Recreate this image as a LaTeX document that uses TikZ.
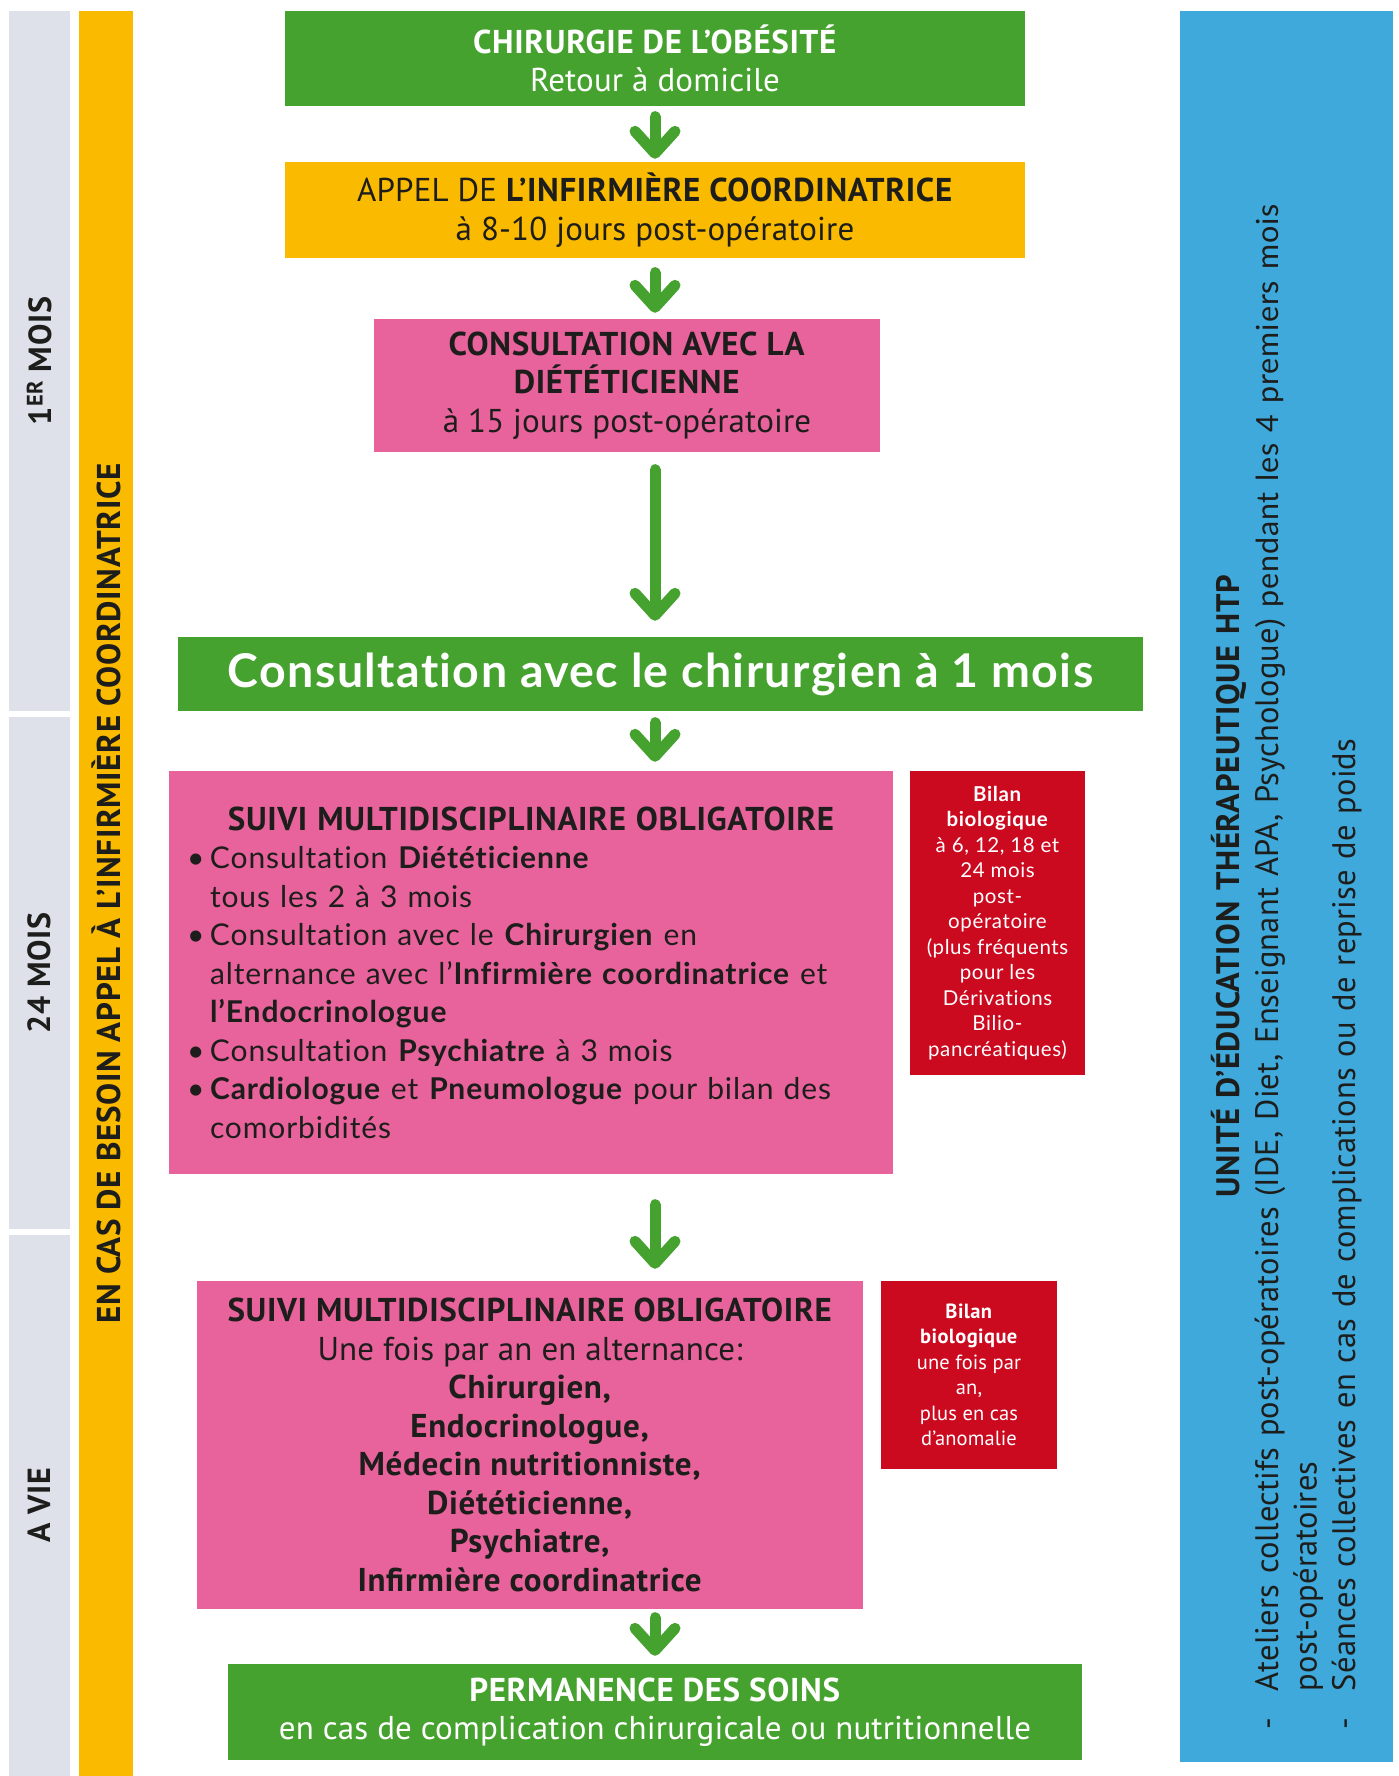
\documentclass[tikz,border=0pt]{standalone}
\usepackage{fontspec}
\setmainfont{PT Sans}[UprightFeatures={LetterSpace=0.5}, BoldFeatures={LetterSpace=2}]
\newfontfamily\amplefont{Lato}[LetterSpace=3, Ligatures=NoCommon]
\usetikzlibrary{arrows.meta}

\newcommand\taille[2]{\fontsize{#1}{#2}\selectfont}
\newcommand\puce{\par\noindent\hangindent=23pt\hangafter=1\makebox[23pt][l]{•}}
\newcommand\tiret{\par\noindent\hangindent=38pt\hangafter=1\makebox[38pt][l]{-}}

\begin{document}
\begin{tikzpicture}[
  x=1pt, y=1pt,
  boite/.style={inner sep=0pt, align=center, text=encre, font=\taille{33}{38.5}},
  periode/.style={rotate=90, fill=gris, inner sep=0pt, minimum height=61pt,
                  text=encre, font=\taille{32}{36}\bfseries},
  fleche/.style={draw=vert, line width=11pt, line cap=round,
                 -{Straight Barb[round, length=22pt, width=40pt]}},
]

%% ── Colours ──────────────────────────────────────────────────────────────────
\definecolor{vert}{HTML}{46A22E}
\definecolor{jaune}{HTML}{F9BA00}
\definecolor{rose}{HTML}{E8639B}
\definecolor{rouge}{HTML}{CB0A20}
\definecolor{bleu}{HTML}{3FA9DB}
\definecolor{gris}{HTML}{DFE1EA}
\definecolor{encre}{HTML}{1D1D1B}

\useasboundingbox (0,0) rectangle (1398,-1776);

%% ── Time scale (left) ────────────────────────────────────────────────────────
\node[periode, minimum width=700pt] (mois1)  at (39.5,-361)    {1\textsuperscript{ER} MOIS};
\node[periode, minimum width=512pt] (mois24) at (39.5,-973)    {24 MOIS};
\node[periode, minimum width=541pt] (avie)   at (39.5,-1505.5) {A VIE};

\node[rotate=90, fill=jaune, inner sep=0pt, minimum width=1765pt, minimum height=54pt,
      text=encre, font=\taille{33}{36}\bfseries] (besoin) at (106,-893.5)
  {EN CAS DE BESOIN APPEL À L’INFIRMIÈRE COORDINATRICE};

%% ── First month ──────────────────────────────────────────────────────────────
\node[boite, fill=vert, text=white, minimum width=740pt, minimum height=95pt] (retour) at (655,-58.5)
  {\textbf{CHIRURGIE DE L’OBÉSITÉ}\\Retour à domicile};
\node[boite, fill=jaune, minimum width=740pt, minimum height=96pt] (appel) at (655,-210)
  {APPEL DE \textbf{L’INFIRMIÈRE COORDINATRICE}\\à 8-10 jours post-opératoire};
\node[boite, fill=rose, minimum width=506pt, minimum height=133pt] (diet) at (627,-385.5)
  {\textbf{CONSULTATION AVEC LA}\\\textbf{DIÉTÉTICIENNE}\\à 15 jours post-opératoire};
\node[boite, fill=vert, text=white, minimum width=965pt, minimum height=74pt,
      font=\amplefont\taille{46.5}{50}\bfseries] (chir1) at (660.5,-674)
  {Consultation avec le chirurgien à 1 mois};

%% ── 24 months ────────────────────────────────────────────────────────────────
\node[boite, fill=rose, minimum width=724pt, minimum height=403pt, text width=688pt, align=left,
      font=\amplefont\taille{30}{38.5}] (suivi) at (531,-972.5)
  {{\centering\rmfamily\taille{33}{38.5}\bfseries SUIVI MULTIDISCIPLINAIRE OBLIGATOIRE\par}
   \puce Consultation \textbf{Diététicienne}\newline tous les 2 à 3 mois
   \puce Consultation avec le \textbf{Chirurgien} en\newline alternance avec l’\textbf{Infirmière coordinatrice} et\newline \textbf{l’Endocrinologue}
   \puce Consultation \textbf{Psychiatre} à 3 mois
   \puce \textbf{Cardiologue} et \textbf{Pneumologue} pour bilan des\newline comorbidités\par};
\node[boite, fill=rouge, text=white, minimum width=175pt, minimum height=304pt,
      font=\amplefont\taille{20.5}{25.5}] (bilan24) at (997.5,-923)
  {\textbf{Bilan}\\\textbf{biologique}\\à 6, 12, 18 et\\24 mois\\post-\\opératoire\\(plus fréquents\\pour les\\Dérivations\\Bilio-\\pancréatiques)};

%% ── For life ─────────────────────────────────────────────────────────────────
\node[boite, fill=rose, minimum width=666pt, minimum height=328pt] (suivivie) at (530,-1445)
  {\textbf{SUIVI MULTIDISCIPLINAIRE OBLIGATOIRE}\\Une fois par an en alternance:\\\textbf{Chirurgien,}\\\textbf{Endocrinologue,}\\\textbf{Médecin nutritionniste,}\\\textbf{Diététicienne,}\\\textbf{Psychiatre,}\\\textbf{Infirmière coordinatrice}};
\node[boite, fill=rouge, text=white, minimum width=176pt, minimum height=188pt,
      font=\taille{20.5}{25.5}] (bilanan) at (969,-1375)
  {\textbf{Bilan}\\\textbf{biologique}\\une fois par\\an,\\plus en cas\\d’anomalie};
\node[boite, fill=vert, text=white, minimum width=854pt, minimum height=96pt] (perm) at (655,-1712)
  {\textbf{PERMANENCE DES SOINS}\\en cas de complication chirurgicale ou nutritionnelle};

%% ── Education unit (right) ───────────────────────────────────────────────────
\node[rotate=90, fill=bleu, inner sep=0pt, minimum width=1751pt, minimum height=213pt,
      text width=1685pt, align=left, text=encre, font=\taille{32.5}{38.5}] (htp) at (1286.5,-886.5)
  {{\centering\bfseries UNITÉ D’ÉDUCATION THÉRAPEUTIQUE HTP\par}
   \tiret Ateliers collectifs post-opératoires (IDE, Diet, Enseignant APA, Psychologue) {\amplefont\taille{30.5}{38.5}pendant les 4 premiers mois}\newline post-opératoires
   \tiret Séances collectives en cas de complications ou de reprise de poids\par};

%% ── Arrows ───────────────────────────────────────────────────────────────────
\draw[fleche, shorten <=10.5pt, shorten >=3pt] (retour) -- (appel);
\draw[fleche, shorten <=14.5pt, shorten >=6pt] (appel) -- (diet.north -| appel);
\draw[fleche, shorten <=17.5pt, shorten >=16pt] (diet.south -| retour) -- (chir1.north -| retour);
\draw[fleche, shorten <=11.5pt, shorten >=9pt] (chir1.south -| retour) -- (suivi.north -| retour);
\draw[fleche, shorten <=30.5pt, shorten >=12pt] (suivi.south -| retour) -- (suivivie.north -| retour);
\draw[fleche, shorten <=8.5pt, shorten >=8pt] (suivivie.south -| retour) -- (perm);

\end{tikzpicture}
\end{document}
